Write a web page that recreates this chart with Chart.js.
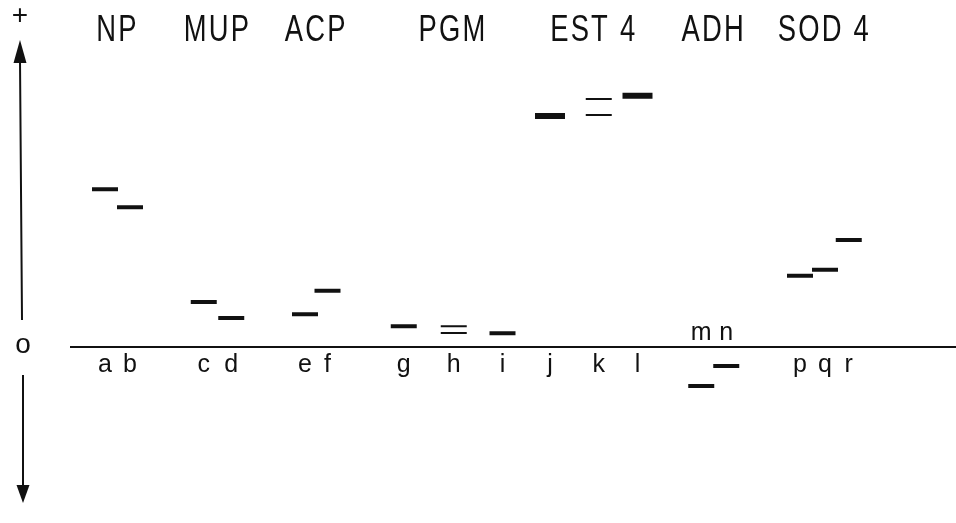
<!DOCTYPE html>
<html>
<head>
<meta charset="utf-8">
<script src="https://cdn.jsdelivr.net/npm/chart.js@4/dist/chart.umd.min.js"></script>
<style>
  html, body { margin: 0; padding: 0; background: #ffffff; }
  #wrap { width: 956px; height: 523px; position: relative; }
</style>
</head>
<body>
<div id="wrap"><canvas id="c"></canvas></div>
<script>
// ---- data ----
// lanes (sample slots) and their position along the gel (arbitrary units)
const laneNames = ['a','b','c','d','e','f','g','h','i','j','k','l','m','n','p','q','r'];
const lanePos   = [4.2, 5.2, 8.15, 9.25, 12.2, 13.1, 16.15, 18.15, 20.1, 22.0, 23.95, 25.5, 28.05, 29.05, 32.0, 33.0, 33.95];

// enzyme systems and the lanes belonging to each
const systems     = ['NP', 'MUP', 'ACP', 'PGM', 'EST 4', 'ADH', 'SOD 4'];
const systemLanes = [['a','b'], ['c','d'], ['e','f'], ['g','h','i'], ['j','k','l'], ['m','n'], ['p','q','r']];

// bands: lane, relative mobility from origin (+ anodal, - cathodal), staining intensity
const bandLane     = ['a','b','c','d','e','f','g','h','h','i','j','k','k','l','m','n','p','q','r'];
const bandMobility = [63.1, 55.9, 18.0, 11.6, 13.1, 22.5, 8.3, 8.3, 5.6, 5.5, 92.4, 99.2, 92.8, 100.5, -15.6, -7.6, 28.5, 30.9, 42.8];
const bandStain    = ['normal','normal','normal','normal','normal','normal','normal','faint','faint','normal',
                      'strong','faint','faint','strong','normal','normal','normal','normal','normal'];

// ---- styling ----
const INK = '#111111';
const stainStyle = {
  strong: { width: 6, half: 15 },
  normal: { width: 4, half: 13 },
  faint:  { width: 2, half: 13 }
};

function laneX(name) { return lanePos[laneNames.indexOf(name)]; }

const datasets = Object.keys(stainStyle).map(key => ({
  label: key,
  data: bandLane.map((l, i) => ({ x: laneX(l), y: bandMobility[i], s: bandStain[i] }))
                .filter(p => p.s === key),
  pointStyle: 'line',
  pointRadius: stainStyle[key].half,
  pointHoverRadius: stainStyle[key].half,
  pointBorderWidth: stainStyle[key].width,
  pointHoverBorderWidth: stainStyle[key].width,
  borderColor: INK,
  backgroundColor: INK,
  showLine: false,
  clip: false
}));

const decor = {
  id: 'decor',
  afterDatasetsDraw(chart) {
    const ctx = chart.ctx;
    const xs = chart.scales.x, ys = chart.scales.y;
    const y0 = ys.getPixelForValue(0);
    ctx.save();
    ctx.strokeStyle = INK;
    ctx.fillStyle = INK;

    // origin line
    ctx.lineWidth = 2;
    ctx.beginPath();
    ctx.moveTo(70, y0);
    ctx.lineTo(chart.width, y0);
    ctx.stroke();

    // left direction arrows
    const ax = 20;
    ctx.lineWidth = 2;
    ctx.beginPath();
    ctx.moveTo(ax, 60); ctx.lineTo(ax + 2, y0 - 27);
    ctx.moveTo(ax + 3, y0 + 28); ctx.lineTo(ax + 3, 488);
    ctx.stroke();
    ctx.beginPath();
    ctx.moveTo(ax, 40); ctx.lineTo(ax - 6.5, 63); ctx.lineTo(ax + 6.5, 63); ctx.closePath();
    ctx.fill();
    ctx.beginPath();
    ctx.moveTo(ax + 3, 503); ctx.lineTo(ax + 3 - 6.5, 485); ctx.lineTo(ax + 3 + 6.5, 485); ctx.closePath();
    ctx.fill();

    // "+" and "o"
    ctx.textAlign = 'center';
    ctx.textBaseline = 'middle';
    ctx.font = '28px "Liberation Sans", Arial, sans-serif';
    ctx.fillText('+', 20, 16);
    ctx.font = '28px "Liberation Sans", Arial, sans-serif';
    ctx.fillText('o', 23, y0 - 2);

    // lane letters
    ctx.font = '25px "Liberation Sans", Arial, sans-serif';
    laneNames.forEach((n, i) => {
      const px = xs.getPixelForValue(lanePos[i]);
      const below = bandLane.some((l, j) => l === n && bandMobility[j] < 0);
      ctx.fillText(n, px, below ? y0 - 14 : y0 + 18);
    });

    // system names
    ctx.font = '37px "Liberation Sans", Arial, sans-serif';
    try { ctx.letterSpacing = '3px'; } catch (e) {}
    systems.forEach((s, i) => {
      const xsv = systemLanes[i].map(laneX);
      const cx = xs.getPixelForValue((Math.min(...xsv) + Math.max(...xsv)) / 2);
      ctx.save();
      ctx.translate(cx, 31);
      ctx.scale(0.74, 1);
      ctx.fillText(s, 0, 0);
      ctx.restore();
    });
    ctx.restore();
  }
};

new Chart(document.getElementById('c'), {
  type: 'scatter',
  data: { datasets },
  options: {
    responsive: true,
    maintainAspectRatio: false,
    animation: false,
    events: [],
    layout: { padding: 0, autoPadding: false },
    plugins: { legend: { display: false }, tooltip: { enabled: false } },
    scales: {
      x: { type: 'linear', display: false, min: 0, max: 38.24 },
      y: { type: 'linear', display: false, min: -70.4, max: 138.8 }
    }
  },
  plugins: [decor]
});
</script>
</body>
</html>
